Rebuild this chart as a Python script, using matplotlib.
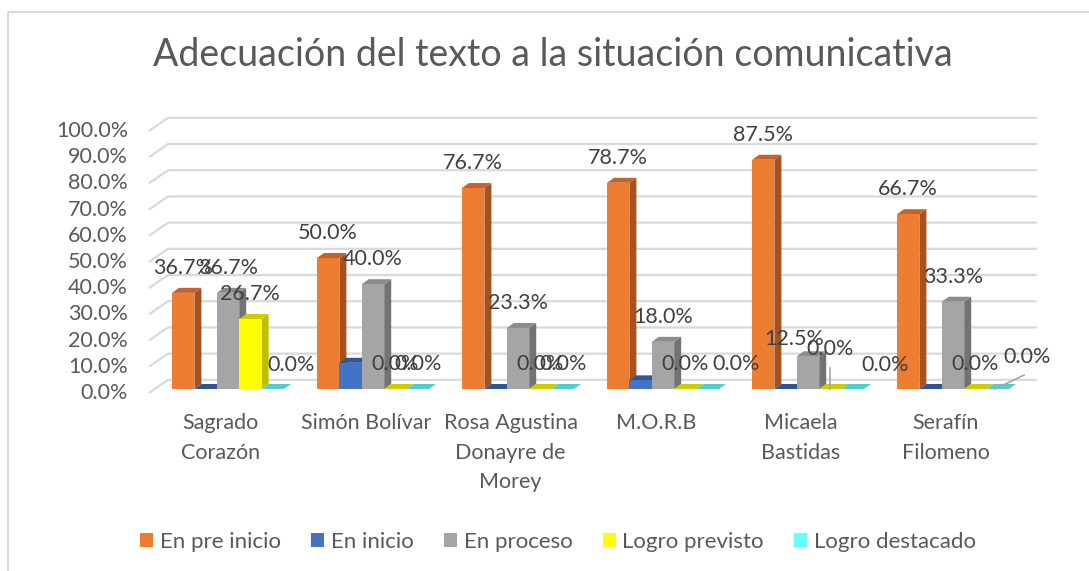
import matplotlib
matplotlib.use("Agg")
import matplotlib.pyplot as plt
from matplotlib.patches import Polygon, Patch
from matplotlib.lines import Line2D

# data
categorias = ["Sagrado\nCorazón", "Simón Bolívar", "Rosa Agustina\nDonayre de\nMorey",
              "M.O.R.B", "Micaela\nBastidas", "Serafín\nFilomeno"]
series = ["En pre inicio", "En inicio", "En proceso", "Logro previsto", "Logro destacado"]
pre_inicio = [36.7, 50.0, 76.7, 78.7, 87.5, 66.7]
inicio = [0.0, 10.0, 0.0, 3.3, 0.0, 0.0]
proceso = [36.7, 40.0, 23.3, 18.0, 12.5, 33.3]
previsto = [26.7, 0.0, 0.0, 0.0, 0.0, 0.0]
destacado = [0.0, 0.0, 0.0, 0.0, 0.0, 0.0]
valores = [pre_inicio, inicio, proceso, previsto, destacado]
yticks = [0, 10, 20, 30, 40, 50, 60, 70, 80, 90, 100]

# colours: front, side, top
front = ["#ED7D31", "#4472C4", "#A5A5A5", "#FFFF00", "#66FFFF"]
side = ["#A6521F", "#2F5597", "#737373", "#BFBF00", "#4CBFBF"]
top = ["#C3622A", "#2F5597", "#8C8C8C", "#CCCC00", "#55CCCC"]
mostrar = [True, False, True, True, True]

PX_X = 145.0   # pixels per category
PX_Y = 2.62    # pixels per percent
FONT = "Lato"
TXT = "#595959"
FS = 15.5

fig = plt.figure(figsize=(10.89, 5.71), dpi=100)
ax = fig.add_axes([140 / 1089, 1 - 400 / 571, 905 / 1089, 290 / 571])
ax.set_xlim((140 - 228) / PX_X, (1045 - 228) / PX_X)
ax.set_ylim((389 - 400) / PX_Y, (389 - 110) / PX_Y)
ax.axis("off")

# back wall gridlines with small 3D step on the left
xl, xb, xr = (149 - 228) / PX_X, (168 - 228) / PX_X, (1037 - 228) / PX_X
for t in yticks:
    ax.plot([xl, xb, xr], [t - 1.5, t + 3.5, t + 3.5], color="#D9D9D9", lw=1.6, zorder=1,
            solid_capstyle="butt")
    ax.text((128 - 228) / PX_X, t - 1.5, f"{t:.1f}%", ha="right", va="center",
            fontsize=FS, color=TXT, family=FONT, clip_on=False)

w = 22.4 / PX_X
dx = 7 / PX_X
dy = 5 / PX_Y
offs = [-2 * w, -w, 0, w, 2 * w]

# label tweaks (pixels) where Excel moved them
ajuste = {(4, 0): (18, 24), (4, 3): (28, 25), (2, 4): (-14, 17), (3, 4): (0, 40),
          (4, 4): (32, 24), (4, 5): (29, 32)}

for i in range(len(categorias)):
    for s in range(len(series)):
        v = valores[s][i]
        x = i + offs[s]
        z = 3 + s
        ax.add_patch(Polygon([(x + w / 2, 0), (x + w / 2 + dx, dy), (x + w / 2 + dx, v + dy),
                              (x + w / 2, v)], closed=True, fc=side[s], ec="none", zorder=z))
        ax.add_patch(Polygon([(x - w / 2, v), (x + w / 2, v), (x + w / 2 + dx, v + dy),
                              (x - w / 2 + dx, v + dy)], closed=True, fc=top[s], ec="none", zorder=z))
        ax.bar(x, v, width=w, color=front[s], zorder=z, linewidth=0)
        if mostrar[s]:
            ox, oy = ajuste.get((s, i), (0, 25))
            ax.text(x + ox / PX_X, v + oy / PX_Y, f"{v:.1f}%", ha="center", va="center",
                    fontsize=FS, color="#404040", family=FONT, zorder=20)

# leader lines
ax.plot([4 + offs[3], 4 + offs[3]], [0, 8], color="#A6A6A6", lw=1.2, zorder=15)
ax.plot([(995 - 228) / PX_X, (1024 - 228) / PX_X], [0, 5.3], color="#A6A6A6", lw=1.2, zorder=15)

for i, c in enumerate(categorias):
    ax.text(i - 0.05, (389 - 413) / PX_Y, c, ha="center", va="top", fontsize=FS,
            color=TXT, family=FONT, linespacing=1.6, clip_on=False)

fig.text(553 / 1089, 1 - 55 / 571, "Adecuación del texto a la situación comunicativa",
         ha="center", va="center", fontsize=27, color=TXT, family=FONT)

handles = [Patch(facecolor=front[s], edgecolor="none") for s in range(len(series))]
fig.legend(handles, series, loc="center", bbox_to_anchor=(558 / 1089, 1 - 542 / 571), ncol=5,
           frameon=False, handlelength=0.6, handleheight=0.6, handletextpad=0.3,
           columnspacing=1.35, prop={"family": FONT, "size": 16}, labelcolor=TXT)

# chart area border (top and left edges visible)
fig.add_artist(Line2D([8 / 1089, 8 / 1089, 1], [0, 1 - 12 / 571, 1 - 12 / 571],
                      transform=fig.transFigure, color="#D9D9D9", lw=1.5))

fig.savefig("out.png", dpi=100)
